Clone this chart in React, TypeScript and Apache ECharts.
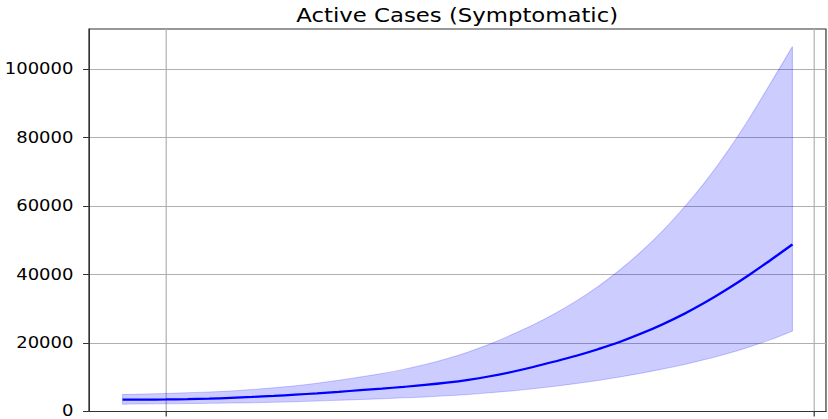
import React, { useEffect, useRef } from "react";
import * as echarts from "echarts";

const TITLE = "Active Cases (Symptomatic)";
const dayIndex = [0, 1, 2, 3, 4, 5, 6, 7, 8, 9, 10, 11, 12, 13, 14, 15, 16, 17, 18, 19, 20, 21, 22, 23, 24, 25, 26, 27, 28, 29, 30, 31];
const centre = [3450, 3470, 3520, 3600, 3750, 3980, 4250, 4560, 4920, 5300, 5750, 6230, 6700, 7200, 7750, 8420, 9250, 10300, 11550, 13000, 14600, 16300, 18200, 20300, 22750, 25500, 28550, 32000, 35800, 39900, 44300, 48800];
const upper = [5000, 5100, 5250, 5450, 5700, 6000, 6400, 6900, 7500, 8250, 9100, 10050, 11100, 12300, 13700, 15400, 17400, 19700, 22400, 25300, 28600, 32300, 36500, 41300, 46700, 52800, 59700, 67400, 76000, 85600, 96000, 106600];
const lower = [2150, 2200, 2250, 2300, 2380, 2470, 2580, 2720, 2880, 3060, 3260, 3500, 3750, 4000, 4270, 4600, 5000, 5470, 6020, 6650, 7370, 8180, 9080, 10080, 11180, 12400, 13750, 15250, 16920, 18850, 21000, 23500];
const xTicks = [2, 32];
const yTicks = [0, 20000, 40000, 60000, 80000, 100000];

const FONT = "DejaVu Sans";

function smoothSegs(p: number[][]): string {
  let d = "";
  for (let i = 0; i < p.length - 1; i++) {
    const p0 = p[Math.max(0, i - 1)];
    const p1 = p[i];
    const p2 = p[i + 1];
    const p3 = p[Math.min(p.length - 1, i + 2)];
    const c1x = p1[0] + (p2[0] - p0[0]) / 6;
    const c1y = p1[1] + (p2[1] - p0[1]) / 6;
    const c2x = p2[0] - (p3[0] - p1[0]) / 6;
    const c2y = p2[1] - (p3[1] - p1[1]) / 6;
    d += ` C${c1x},${c1y} ${c2x},${c2y} ${p2[0]},${p2[1]}`;
  }
  return d;
}

export default function App() {
  const ref = useRef<HTMLDivElement>(null);
  useEffect(() => {
    if (!ref.current) return;
    const chart = echarts.init(ref.current, undefined, { renderer: "svg" });
    const n = dayIndex.length - 1;
    const pad = n * 0.05;
    chart.setOption({
      animation: false,
      backgroundColor: "#ffffff",
      title: {
        text: TITLE,
        left: 381,
        top: 6,
        padding: 0,
        textAlign: "center",
        textStyle: { fontFamily: FONT, fontSize: 19, fontWeight: "normal", color: "#000" },
      },
      grid: {
        left: 74.2,
        right: 1.7,
        top: 29,
        bottom: 6.3,
        show: true,
        borderColor: "#333",
        borderWidth: 1,
        backgroundColor: "transparent",
      },
      xAxis: {
        type: "value",
        min: -pad,
        max: n + pad,
        axisLine: { show: true, onZero: false, lineStyle: { color: "#333", width: 1 } },
        axisTick: { show: true, customValues: xTicks, length: 5, lineStyle: { color: "#333" } },
        axisLabel: { show: false },
        splitLine: { show: true, lineStyle: { color: "#b0b0b0", width: 1 } },
      },
      yAxis: {
        type: "value",
        min: 0,
        max: 111700,
        axisLine: { show: true, onZero: false, lineStyle: { color: "#333", width: 1 } },
        axisTick: { show: true, customValues: yTicks, length: 5, lineStyle: { color: "#333" } },
        axisLabel: {
          customValues: yTicks,
          margin: 13,
          fontFamily: FONT,
          fontSize: 15,
          color: "#000",
          formatter: (v: number) => String(v),
        },
        splitLine: { show: true, lineStyle: { color: "#b0b0b0", width: 1 } },
      },
      series: [
        {
          type: "custom",
          name: "band",
          data: dayIndex.map((d, i) => [d, lower[i], upper[i]]),
          encode: { x: 0, y: [1, 2] },
          z: 2,
          renderItem: (params: any, api: any) => {
            if (params.dataIndex !== 0) return null;
            const up = dayIndex.map((d, i) => api.coord([d, upper[i]]));
            const lo = dayIndex.map((d, i) => api.coord([d, lower[i]])).reverse();
            const d =
              `M${up[0][0]},${up[0][1]}` +
              smoothSegs(up) +
              ` L${lo[0][0]},${lo[0][1]}` +
              smoothSegs(lo) +
              " Z";
            return {
              type: "path",
              shape: { pathData: d },
              style: { fill: "rgba(0,0,255,0.2)", stroke: "rgba(0,0,255,0.2)", lineWidth: 1 },
            };
          },
        },
        {
          type: "line",
          name: "centre",
          data: dayIndex.map((d, i) => [d, centre[i]]),
          symbol: "none",
          smooth: 0.4,
          lineStyle: { color: "#0000ff", width: 2.2 },
          z: 3,
        },
      ],
    });
    return () => chart.dispose();
  }, []);
  return (
    <div style={{ position: "absolute", left: 0, top: 0, width: 828, height: 419, overflow: "hidden", background: "#fff" }}>
      <div
        ref={ref}
        style={{ width: 690, height: 419, transform: "scaleX(1.2)", transformOrigin: "0 0" }}
      />
    </div>
  );
}
